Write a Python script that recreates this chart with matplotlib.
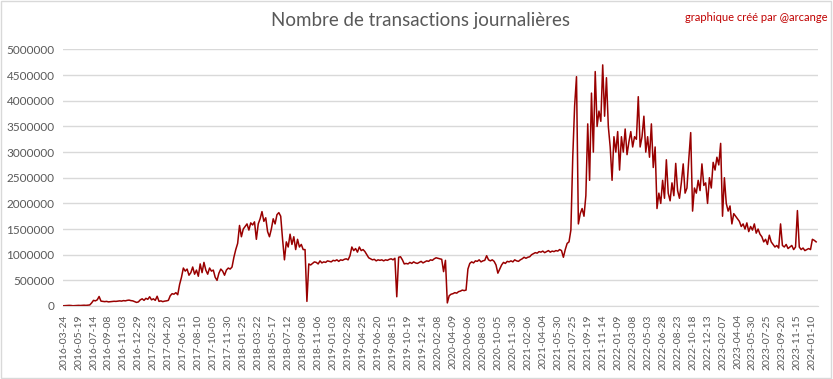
import matplotlib
matplotlib.use("Agg")
import matplotlib.pyplot as plt
from matplotlib.patches import Rectangle

# daily category labels shown on the axis (one every 56 days of data)
tick_labels = [
    "2016-03-24", "2016-05-19", "2016-07-14", "2016-09-08", "2016-11-03", "2016-12-29",
    "2017-02-23", "2017-04-20", "2017-06-15", "2017-08-10", "2017-10-05", "2017-11-30",
    "2018-01-25", "2018-03-22", "2018-05-17", "2018-07-12", "2018-09-08", "2018-11-06",
    "2019-01-03", "2019-02-28", "2019-04-25", "2019-06-20", "2019-08-15", "2019-10-19",
    "2019-12-14", "2020-02-08", "2020-04-09", "2020-06-06", "2020-08-03", "2020-10-05",
    "2020-11-30", "2021-02-06", "2021-04-04", "2021-05-30", "2021-07-25", "2021-09-19",
    "2021-11-14", "2022-01-09", "2022-03-08", "2022-05-03", "2022-06-28", "2022-08-23",
    "2022-10-18", "2022-12-13", "2023-02-07", "2023-04-04", "2023-05-30", "2023-07-25",
    "2023-09-20", "2023-11-15", "2024-01-10",
]
tick_step = 56
sample_step = 7  # values read off the chart roughly once a week

# transactions per day, in thousands
tx_2016 = [5, 8, 10, 12, 10, 5, 8, 10, 12, 10, 12, 15, 12, 15, 20,
           60, 110, 100, 120, 185,
           95, 90, 85, 90, 80, 85, 88, 92, 90, 95, 100, 95, 105, 100, 110, 115, 105,
           100, 85, 70, 80]
tx_2017 = [120, 140, 110, 150, 130, 180, 120, 140, 110, 190,
           90, 100, 85, 95, 100, 110,
           200, 240, 230, 260, 220,
           420, 560, 740,
           680, 720, 600, 650, 760, 620, 700, 580, 820, 650, 850, 700, 620, 740, 680,
           700, 560, 500, 640, 720, 680, 600, 700, 740, 720,
           760, 950, 1100, 1220, 1570, 1350]
tx_2018 = [1500, 1550, 1600, 1480, 1620, 1580, 1640, 1300, 1600, 1700,
           1840, 1650, 1720, 1450, 1350, 1500,
           1700, 1600, 1780, 1820, 1750, 1300, 900,
           1250, 1150, 1400, 1200, 1350, 1100, 1300, 1150, 1200, 1100,
           1100, 90]
tx_2019 = [820, 800, 830, 860, 850, 820, 880, 840, 860, 850, 880, 870, 860, 890, 880,
           900, 870, 900, 890, 910, 920, 900,
           980, 1150, 1080, 1120, 1050, 1150, 1080, 1100, 1060,
           1000, 940, 920, 900, 910, 880,
           900, 890, 900, 880, 900, 890, 910, 920, 900, 930,
           180,
           950, 960, 900, 820, 830,
           820, 850, 830, 860, 840, 830, 850, 870, 840, 860, 880, 870, 900, 890, 920]
tx_2020 = [940, 930, 920, 910, 670, 890, 60,
           200, 230, 240, 260, 250, 280, 290, 310, 300,
           310, 720,
           830, 860, 840, 880, 870, 900, 860, 880, 890, 980,
           900, 880, 900, 870, 800,
           640, 720, 800,
           850, 830, 870, 860, 880, 860, 900, 880, 870]
tx_2021 = [900, 920, 950, 930, 950, 960, 1000,
           1020, 1040, 1030, 1060, 1050, 1070, 1040, 1060, 1080, 1050, 1070, 1060,
           1080, 1070, 1100, 1080,
           950, 1100, 1220, 1250, 1480,
           2900, 3900, 4470, 1600,
           1800, 1900, 1750, 2150, 3550,
           2450, 4150, 3000, 4570,
           3500, 3800, 3600, 4700, 3700, 4450, 3500]
tx_2022 = [3100, 2450, 3300, 3000, 3400, 2650,
           3300, 3000, 3450, 2950, 3200, 3400, 3100, 3300,
           3250, 4080, 3100, 3300, 3700, 3000, 3300, 2900, 3550, 2700, 3100, 1900,
           2200, 2000, 2450, 2100, 2850, 2200, 2050, 2400, 2150, 2780, 2250, 2100,
           2400, 2770, 2200, 2300, 2870,
           3380, 1850,
           2300, 2200, 2450, 2250, 2770, 2350, 2400, 2000, 2500, 2300,
           2800, 2650, 2900, 2750, 3170]
tx_2023 = [1750, 2500, 2000, 1850, 1950, 1600, 1800, 1750,
           1700, 1650, 1550, 1600, 1500, 1620, 1450, 1550, 1480, 1600, 1420, 1500,
           1400, 1350, 1250, 1300, 1200, 1380, 1250,
           1200, 1150, 1180, 1130, 1600, 1180, 1150, 1200, 1120, 1150, 1180, 1100,
           1150, 1860, 1150, 1100, 1130, 1080, 1100, 1120, 1100, 1300, 1280, 1250]

tx = tx_2016 + tx_2017 + tx_2018 + tx_2019 + tx_2020 + tx_2021 + tx_2022 + tx_2023
days = [i * sample_step for i in range(len(tx))]
values = [v * 1000 for v in tx]

grey = "#595959"
fig = plt.figure(figsize=(8.33, 3.79), dpi=100)
fig.patches.append(Rectangle((0.001, 0.002), 0.997, 0.996, transform=fig.transFigure,
                             fill=False, edgecolor="#D9D9D9", lw=1))
ax = fig.add_axes([63 / 833, 1 - 306 / 379, (818 - 63) / 833, (306 - 49.5) / 379])

ax.plot(days, values, color="#990000", lw=1.1)

ax.set_ylim(0, 5000000)
ax.set_yticks(range(0, 5000001, 500000))
ax.set_yticklabels([str(v) for v in range(0, 5000001, 500000)], color=grey,
                   fontsize=8.5, family="Lato")
ax.set_xlim(-2, 2821)
ax.set_xticks([i * tick_step for i in range(len(tick_labels))])
ax.set_xticklabels(tick_labels, rotation=90, color=grey, fontsize=7.5, family="Lato")
ax.tick_params(length=0, pad=6)
ax.grid(axis="y", color="#D9D9D9", lw=1)
ax.set_axisbelow(True)
for s in ["top", "right", "left"]:
    ax.spines[s].set_visible(False)
ax.spines["bottom"].set_color("#D9D9D9")

fig.text(0.505, 0.945, "Nombre de transactions journalières", ha="center", va="center",
         fontsize=13.5, color=grey, family="Lato")
fig.text(0.993, 0.955, "graphique créé par @arcange", ha="right", va="center",
         fontsize=8, color="#C00000", family="Lato")

fig.savefig("out.png", dpi=100)
